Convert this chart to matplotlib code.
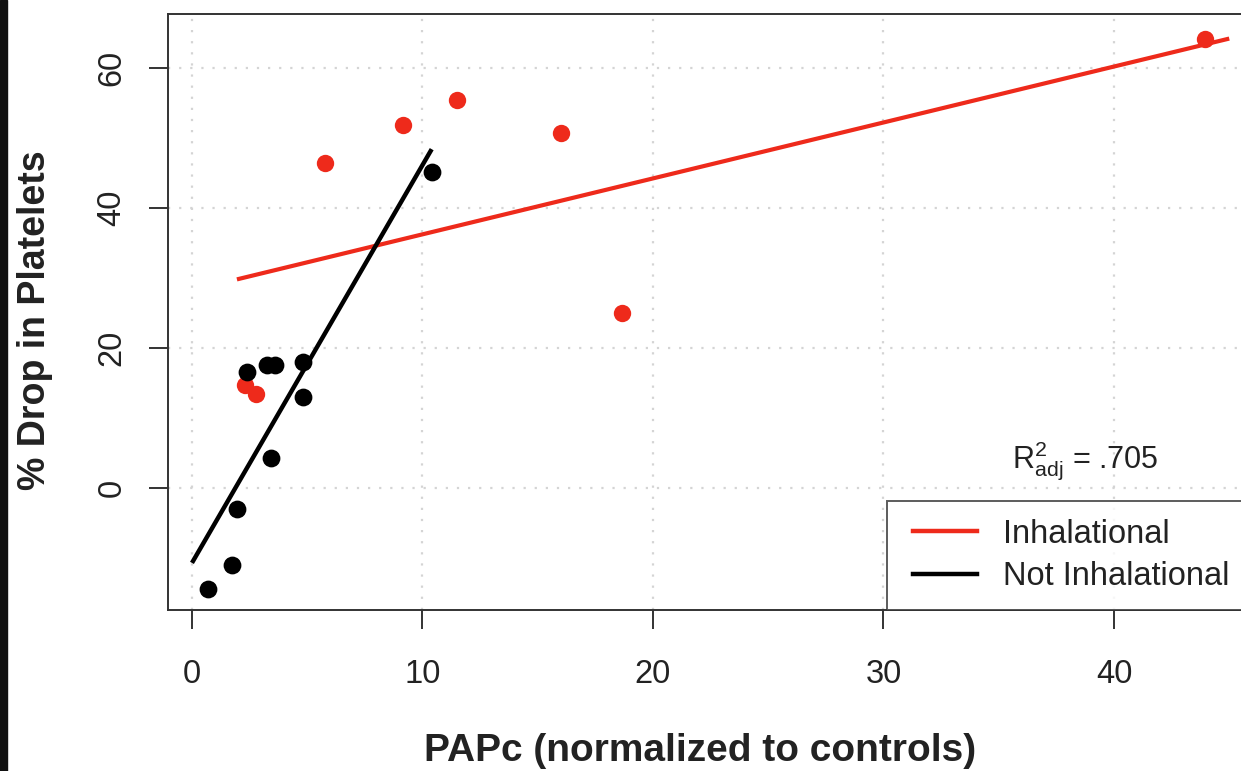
import matplotlib
matplotlib.use("Agg")
import matplotlib.pyplot as plt
from matplotlib.lines import Line2D
from matplotlib.patches import Rectangle
from matplotlib.legend_handler import HandlerLine2D

plt.rcParams['font.family'] = ['Liberation Sans', 'DejaVu Sans']
plt.rcParams['mathtext.fontset'] = 'custom'
plt.rcParams['mathtext.rm'] = 'Liberation Sans'
plt.rcParams['mathtext.it'] = 'Liberation Sans'

# ---- data ----
inhal_x = [43.95, 5.77, 9.15, 11.49, 16.0, 18.64, 2.30, 2.77]
inhal_y = [64.1, 46.4, 51.9, 55.4, 50.7, 25.0, 14.7, 13.4]
notinhal_x = [0.71, 1.73, 1.97, 2.37, 3.25, 3.60, 3.41, 4.83, 4.83, 10.40]
notinhal_y = [-14.5, -11.0, -3.0, 16.5, 17.5, 17.5, 4.3, 18.0, 13.0, 45.1]
# fitted lines (endpoints)
inhal_fit_x = [1.95, 45.0]
inhal_fit_y = [29.8, 64.2]
notinhal_fit_x = [0.0, 10.4]
notinhal_fit_y = [-10.7, 48.4]
xticks = [0, 10, 20, 30, 40]
yticks = [0, 20, 40, 60]
labels = ["Inhalational", "Not Inhalational"]
r2_text = r"$\mathregular{R^2_{adj}}$ = .705"

RED = '#EE2A1B'
BLACK = '#000000'
TXT = '#222222'

W, H = 1241, 771
fig = plt.figure(figsize=(W / 100, H / 100), dpi=100)
fig.patch.set_facecolor('white')
# left dark strip
fig.patches.append(Rectangle((0, 0), 7 / W, 1, transform=fig.transFigure,
                             color='#111111', zorder=0))

left_px, right_px, top_px, bot_px = 168, 1248.6, 14, 610
ax = fig.add_axes([left_px / W, (H - bot_px) / H, (right_px - left_px) / W,
                   (bot_px - top_px) / H])
ax.set_xlim(-1.04, 45.84)
ax.set_ylim(-17.43, 67.71)

ax.grid(True, linestyle=(0, (1, 4)), color='#d4d4d4', linewidth=1.6)
ax.set_axisbelow(True)

ax.plot(inhal_x, inhal_y, 'o', color=RED, markersize=12.5, markeredgewidth=0, zorder=3)
ax.plot(notinhal_x, notinhal_y, 'o', color=BLACK, markersize=12.8, markeredgewidth=0, zorder=3)
ax.plot(inhal_fit_x, inhal_fit_y, '-', color=RED, linewidth=3.0, zorder=4, solid_capstyle='butt')
ax.plot(notinhal_fit_x, notinhal_fit_y, '-', color=BLACK, linewidth=3.2, zorder=4, solid_capstyle='butt')

ax.set_xticks(xticks)
ax.set_yticks(yticks)
ax.set_xticklabels([str(t) for t in xticks])
ax.set_yticklabels([str(t) for t in yticks], rotation=90, va='center')
ax.tick_params(axis='both', length=14, width=1.4, color='#333333',
               labelsize=23.5, labelcolor=TXT)
ax.tick_params(axis='x', pad=21)
ax.tick_params(axis='y', pad=15)
for s in ax.spines.values():
    s.set_linewidth(1.4)
    s.set_color('#333333')

fig.text(700 / W, 1 - 751 / H, "PAPc (normalized to controls)", fontsize=28,
         fontweight='bold', ha='center', va='center', color=TXT)
fig.text(35 / W, 1 - 320 / H, "% Drop in Platelets", fontsize=27, rotation=90,
         fontweight='bold', ha='center', va='center', color=TXT)

ax.text(1085 / W, 1 - 461 / H, r2_text, transform=fig.transFigure, fontsize=22,
        ha='center', va='center', color=TXT)

handles = [Line2D([], [], color=RED, linewidth=3.2),
           Line2D([], [], color=BLACK, linewidth=3.2)]
x0 = (887 - left_px) / (right_px - left_px)
leg = ax.legend(handles, labels, loc='lower left', bbox_to_anchor=(x0, 0, 1 - x0, 0.2),
                mode='expand', fontsize=23.5, frameon=True, fancybox=False,
                handlelength=2.21, handletextpad=0.8, labelspacing=0.35,
                borderpad=0.55, borderaxespad=0,
                handler_map={Line2D: HandlerLine2D(xpad=0.25)})
leg.get_frame().set_edgecolor('#333333')
leg.get_frame().set_linewidth(1.4)
for t in leg.get_texts():
    t.set_color(TXT)

fig.savefig('out.png', dpi=100)
